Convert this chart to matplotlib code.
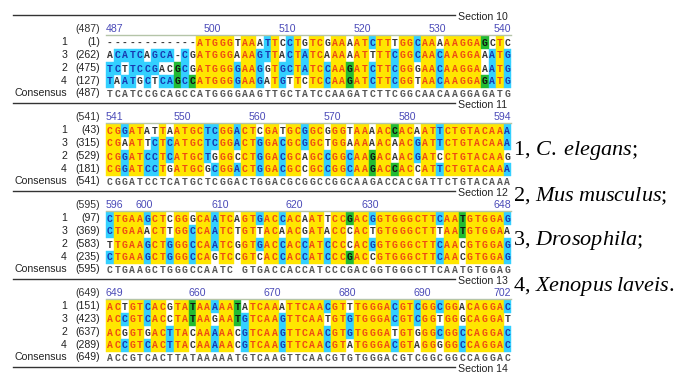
from collections import Counter
import matplotlib
matplotlib.use('Agg')
import matplotlib.pyplot as plt
from matplotlib.patches import Rectangle

plt.rcParams['mathtext.fontset'] = 'custom'
plt.rcParams['mathtext.rm'] = 'Liberation Serif'
plt.rcParams['mathtext.it'] = 'Liberation Serif:italic'

section_no = [10, 11, 12, 13, 14]
row_ids = ['1', '3', '2', '4']
block_start = [487, 541, 595, 649]
row_start = [[1, 262, 475, 127],
             [43, 315, 529, 181],
             [97, 369, 583, 235],
             [151, 423, 637, 289]]
ruler_ticks = [[487, 500, 510, 520, 530, 540],
               [541, 550, 560, 570, 580, 594],
               [596, 600, 610, 620, 630, 648],
               [649, 660, 670, 680, 690, 702]]

seq_1 = ["------------ATGGGTAAATTCCTGTCGAAAATCTTTGGCAAAAAGGAGCTC",
         "CGGATATTAATGCTCGGACTCGATGCGGCGGGTAAAACCACAATTCTGTACAAA",
         "CTGAAGCTCGGGCAATCAGTGACCACAATTCCGACGGTGGGCTTCAATGTGGAG",
         "ACTGTCACGTATAAAAATATCAAATTCAACGTTTGGGACGTCGGCGGACAGGAC"]
seq_3 = ["ACATCAGCA-CGATGGGAAAGTTACTATCAAAAATTTTCGGCAACAAGGAAATG",
         "CGAATTCTCATGCTCGGACTGGACGCGGCTGGAAAAACAACGATTCTGTACAAA",
         "CTGAAACTTGGCCAATCTGTTACAACGATACCCACTGTGGGCTTTAATGTGGAA",
         "ACCGTCACCTATAAGAATGTCAAGTTCAATGTGTGGGACGTCGGTGGGCAGGAT"]
seq_2 = ["TCTTCCGACGCGATGGGGAAGGTGCTATCCAAGATCTTCGGGAACAAGGAAATG",
         "CGGATCCTCATGCTGGGCCTGGACGCAGCCGGCAAGACAACGATCCTGTACAAG",
         "TTGAAGCTGGGCCAATCGGTGACCACCATCCCCACGGTGGGCTTCAACGTGGAG",
         "ACGGTGACTTACAAAAACGTCAAGTTCAACGTGTGGGATGTGGGCGGCCAGGAC"]
seq_4 = ["TAATGCTCAGCCATGGGGAAGATGTTCTCCAAGATCTTCGGTAACAAGGAGATG",
         "CGGATCCTGATGCGCGGACTGGACGCCGCCGGCAAGACCACCATTCTGTACAAA",
         "CTGAAGCTGGGCCAGTCCGTCACCACCATCCCGACCGTGGGCTTCAACGTGGAG",
         "ACCGTCACTTACAAAAACGTCAAGTTCAACGTATGGGACGTAGGGGGCCAGGAC"]
consensus = ["TCATCCGCAGCCATGGGGAAGTTGCTATCCAAGATCTTCGGCAACAAGGAGATG",
             "CGGATCCTCATGCTCGGACTGGACGCGGCCGGCAAGACCACGATTCTGTACAAA",
             "CTGAAGCTGGGCCAATC GTGACCACCATCCCGACGGTGGGCTTCAATGTGGAG",
             "ACCGTCACTTATAAAAATGTCAAGTTCAACGTGTGGGACGTCGGCGGCCAGGAC"]

species = ["1, $\\mathit{C.\\;elegans}$;",
           "2, $\\mathit{Mus\\;musculus}$;",
           "3, $\\mathit{Drosophila}$;",
           "4, $\\mathit{Xenopus\\;laveis}$."]

rows = [seq_1, seq_3, seq_2, seq_4]   # display order 1, 3, 2, 4

# ---- layout / style ----
X0, CW = 106, 7.5          # first column x, column width (px)
TOP0, BLOCK_H, ROW_H = 15, 88, 13
bg = {'y': '#ffe600', 'c': '#33d0ff', 'g': '#22bb33', 'w': None}
fg = {'y': '#ee4a14', 'c': '#1838b0', 'g': '#111111', 'w': '#333333'}


def shade(col, cons, ch):
    # yellow: all identical; cyan: matches majority consensus;
    # green: matches consensus chosen from a tie; white: differs
    if cons == ' ':
        return 'w'
    n = col.count(cons)
    if n == len(col):
        return 'y'
    if ch != cons:
        return 'w'
    cnt = Counter(col)
    tie = any(k != cons and v == n for k, v in cnt.items())
    return 'g' if tie else 'c'


fig = plt.figure(figsize=(6.83, 3.77), dpi=100)
ax = fig.add_axes([0, 0, 1, 1])
ax.set_xlim(0, 683)
ax.set_ylim(377, 0)
ax.axis('off')

small = dict(family='Liberation Sans', fontsize=7.6)
mono = dict(family='Liberation Mono', fontsize=7, weight='bold')

# section separators
for k, s in enumerate(section_no):
    y = TOP0 + BLOCK_H * k
    ax.plot([13, 455], [y, y], color='#333333', lw=1.0)
    ax.text(458, y + 1.5, 'Section %d' % s, va='center', ha='left',
            color='#222222', family='Liberation Sans', fontsize=7.6)

for b in range(4):
    top = TOP0 + BLOCK_H * b
    ncol = len(consensus[b])
    x_end = X0 + ncol * CW

    # ruler
    yr = top + 14
    ax.text(100, yr, '(%d)' % block_start[b], ha='right', va='center',
            color='#333333', **small)
    ticks = ruler_ticks[b]
    for i, v in enumerate(ticks):
        if i == 0:
            ax.text(X0, yr, str(v), ha='left', va='center', color='#4a4ab8', **small)
        elif i == len(ticks) - 1:
            ax.text(x_end, yr, str(v), ha='right', va='center', color='#4a4ab8', **small)
        else:
            c = v - ticks[0]
            ax.text(X0 + c * CW, yr, str(v), ha='left', va='center',
                    color='#4a4ab8', **small)
    ax.plot([X0, x_end], [top + 20, top + 20], color='#b4c4a8', lw=1.0)

    # sequences
    for r, seq in enumerate(rows):
        yc = top + 27 + ROW_H * r
        ax.text(67, yc, row_ids[r], ha='right', va='center', color='#222222', **small)
        ax.text(100, yc, '(%d)' % row_start[b][r], ha='right', va='center',
                color='#222222', **small)
        s = seq[b]
        for j, ch in enumerate(s):
            col = [rr[b][j] for rr in rows]
            k = shade(col, consensus[b][j], ch)
            x = X0 + j * CW
            if bg[k]:
                ax.add_patch(Rectangle((x, yc - ROW_H / 2), CW, ROW_H,
                                       facecolor=bg[k], edgecolor=bg[k], lw=0.3))
            ax.text(x + CW / 2, yc + 0.5, ch, ha='center', va='center',
                    color=fg[k], **mono)

    # consensus row
    yc = top + 27 + ROW_H * 4 - 0.5
    ax.text(67, yc, 'Consensus', ha='right', va='center', color='#222222', **small)
    ax.text(100, yc, '(%d)' % block_start[b], ha='right', va='center',
            color='#222222', **small)
    for j, ch in enumerate(consensus[b]):
        ax.text(X0 + j * CW + CW / 2, yc + 0.5, ch, ha='center', va='center',
                color='#555555', **mono)

# species key
for i, name in enumerate(species):
    ax.text(513, 151 + 45 * i, name, ha='left', va='center',
            family='Liberation Serif', fontsize=16, color='black')

fig.savefig('out.png', dpi=100)
